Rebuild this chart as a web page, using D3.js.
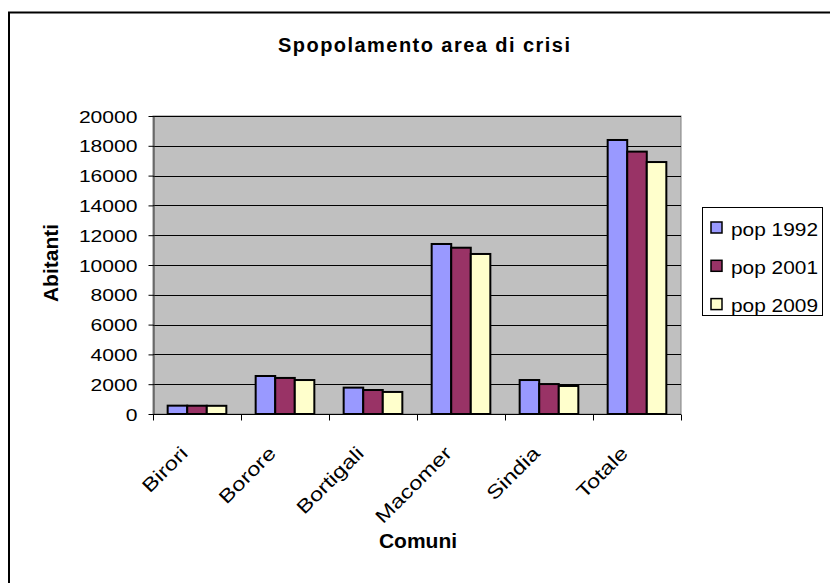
<!DOCTYPE html>
<html>
<head>
<meta charset="utf-8">
<script src="https://cdn.jsdelivr.net/npm/d3@7"></script>
<style>
  html, body { margin: 0; padding: 0; background: #fff; }
  svg { display: block; }
  text { font-family: "Liberation Sans", Arial, sans-serif; fill: #000; }
</style>
</head>
<body>
<svg id="chart" width="830" height="583"></svg>
<script>
// ---- data ----
const categories = ["Birori", "Borore", "Bortigali", "Macomer", "Sindia", "Totale"];
const seriesNames = ["pop 1992", "pop 2001", "pop 2009"];
const pop1992 = [560, 2550, 1770, 11410, 2280, 18390];
const pop2001 = [555, 2420, 1610, 11160, 2010, 17610];
const pop2009 = [550, 2280, 1480, 10740, 1880, 16910];
const yTicks = [0, 2000, 4000, 6000, 8000, 10000, 12000, 14000, 16000, 18000, 20000];
const seriesColors = ["#9999FF", "#993366", "#FFFFCC"];
const titleText = "Spopolamento area di crisi";
const xTitle = "Comuni";
const yTitle = "Abitanti";

const seriesValues = [pop1992, pop2001, pop2009];
const rows = categories.map((c, i) => ({
  cat: c,
  vals: seriesNames.map((s, k) => ({ key: s, value: seriesValues[k][i] }))
}));

// ---- layout ----
const svg = d3.select("#chart");
const plot = { left: 153, right: 681, top: 116, bottom: 414 };

// outer frame (extends beyond the viewport like the reference)
svg.append("rect")
  .attr("x", 9).attr("y", 12.5).attr("width", 900).attr("height", 700)
  .attr("fill", "#fff").attr("stroke", "#000").attr("stroke-width", 2);

const x0 = d3.scaleBand().domain(categories).range([plot.left, plot.right]).paddingInner(0).paddingOuter(0);
const x1 = d3.scaleBand().domain(seriesNames).range([0, x0.bandwidth()]).paddingInner(0).paddingOuter(0.75);
const y = d3.scaleLinear().domain([0, 20000]).range([plot.bottom, plot.top]);
const color = d3.scaleOrdinal().domain(seriesNames).range(seriesColors);

// plot background
svg.append("rect")
  .attr("x", plot.left).attr("y", plot.top)
  .attr("width", plot.right - plot.left).attr("height", plot.bottom - plot.top)
  .attr("fill", "#C0C0C0").attr("stroke", "#808080").attr("stroke-width", 1);

// gridlines
svg.append("g").selectAll("line")
  .data(yTicks.filter(t => t > 0))
  .join("line")
  .attr("x1", plot.left).attr("x2", plot.right)
  .attr("y1", d => Math.round(y(d)) + 0.5).attr("y2", d => Math.round(y(d)) + 0.5)
  .attr("stroke", "#000").attr("stroke-width", 1);

// bars
const groups = svg.append("g").selectAll("g")
  .data(rows).join("g")
  .attr("transform", d => `translate(${x0(d.cat)},0)`);
groups.selectAll("rect")
  .data(d => d.vals).join("rect")
  .attr("x", d => x1(d.key))
  .attr("width", x1.bandwidth())
  .attr("y", d => y(d.value))
  .attr("height", d => y(0) - y(d.value))
  .attr("fill", d => color(d.key))
  .attr("stroke", "#000").attr("stroke-width", 2);

// y axis
const yAxis = svg.append("g")
  .attr("transform", `translate(${plot.left + 0.5},0)`)
  .call(d3.axisLeft(y).tickValues(yTicks).tickFormat(d3.format("d")).tickSize(5).tickSizeOuter(0).tickPadding(11));
yAxis.select(".domain").attr("stroke", "#333");
yAxis.selectAll(".tick line").attr("stroke", "#000");
yAxis.selectAll(".tick text")
  .attr("font-size", 17).attr("font-family", "Liberation Sans, Arial, sans-serif").attr("fill", "#000")
  .attr("dy", "0.36em")
  .each(function () {
    const w = this.getComputedTextLength();
    d3.select(this).attr("textLength", w * 1.24).attr("lengthAdjust", "spacingAndGlyphs");
  });

// x axis
const xAxis = svg.append("g").attr("transform", `translate(0,${plot.bottom + 0.5})`);
xAxis.append("line")
  .attr("x1", plot.left).attr("x2", plot.right)
  .attr("stroke", "#000").attr("stroke-width", 1);
const boundaries = categories.map(c => x0(c)).concat([x0.range()[1]]);
xAxis.selectAll("line.tk").data(boundaries).join("line").attr("class", "tk")
  .attr("x1", d => Math.round(d) + 0.5).attr("x2", d => Math.round(d) + 0.5)
  .attr("y1", 0).attr("y2", 6).attr("stroke", "#000");
xAxis.selectAll("text").data(categories).join("text")
  .attr("transform", d => `translate(${x0(d) + x0.bandwidth() / 2 - 8},${40}) rotate(-45)`)
  .attr("text-anchor", "end")
  .attr("font-size", 19)
  .text(d => d)
  .each(function () {
    const w = this.getComputedTextLength();
    d3.select(this).attr("textLength", w * 1.25).attr("lengthAdjust", "spacingAndGlyphs");
  });

// titles
svg.append("text")
  .attr("x", 424).attr("y", 52)
  .attr("text-anchor", "middle")
  .attr("font-size", 20).attr("font-weight", "bold")
  .attr("textLength", 292).attr("lengthAdjust", "spacing")
  .text(titleText);

svg.append("text")
  .attr("x", 418).attr("y", 548)
  .attr("text-anchor", "middle")
  .attr("font-size", 21).attr("font-weight", "bold")
  .text(xTitle);

svg.append("text")
  .attr("transform", "translate(58,263) rotate(-90)")
  .attr("text-anchor", "middle")
  .attr("font-size", 21).attr("font-weight", "bold")
  .text(yTitle);

// legend
const legend = svg.append("g").attr("transform", "translate(702,207)");
legend.append("rect")
  .attr("x", 0.5).attr("y", 0.5).attr("width", 120).attr("height", 108)
  .attr("fill", "#fff").attr("stroke", "#000").attr("stroke-width", 1);
const li = legend.selectAll("g.item").data(seriesNames).join("g").attr("class", "item")
  .attr("transform", (d, i) => `translate(9,${15 + i * 38.3})`);
li.append("rect")
  .attr("width", 11).attr("height", 11)
  .attr("fill", d => color(d)).attr("stroke", "#000").attr("stroke-width", 1.5);
li.append("text")
  .attr("x", 20).attr("y", 13.5)
  .attr("font-size", 17.5)
  .text(d => d)
  .each(function () {
    d3.select(this).attr("textLength", 87).attr("lengthAdjust", "spacingAndGlyphs");
  });
</script>
</body>
</html>
